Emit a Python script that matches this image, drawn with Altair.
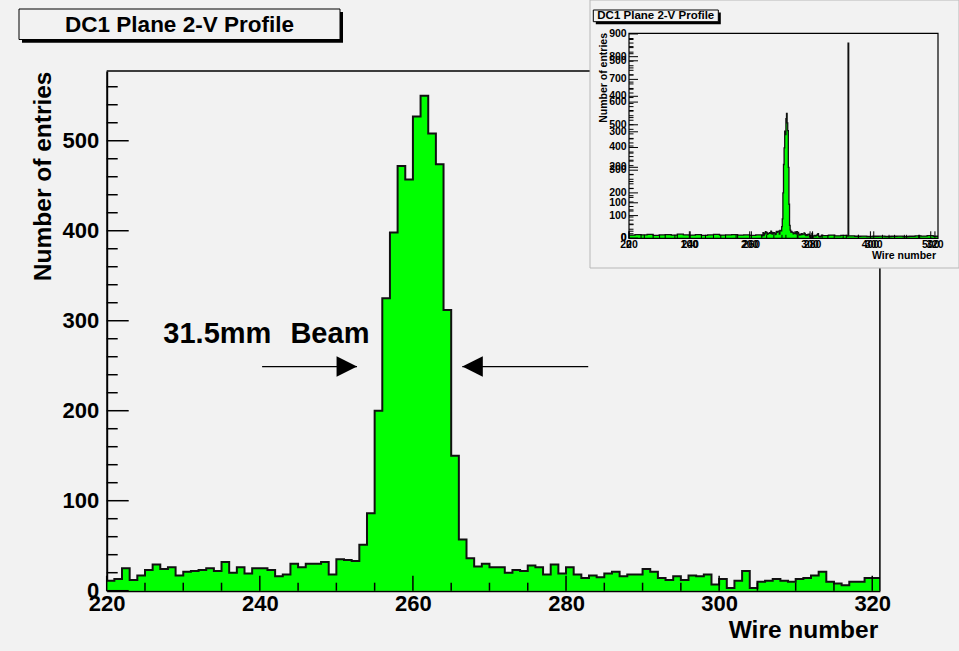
import altair as alt
import pandas as pd

FONT = "Liberation Sans"
BG = "#f2f2f2"

# ---------------- data ----------------
wires = list(range(220, 321))
counts = [11, 13, 25, 12, 17, 23, 29, 24, 26, 17,
          21, 22, 23, 25, 22, 32, 20, 26, 19, 25,
          25, 23, 16, 18, 30, 26, 30, 30, 32, 18,
          35, 34, 33, 51, 86, 200, 325, 398, 472, 457,
          527, 550, 508, 474, 312, 150, 57, 36, 27, 30,
          26, 26, 20, 23, 22, 28, 26, 18, 29, 19,
          26, 18, 14, 17, 15, 19, 21, 16, 18, 18,
          24, 21, 14, 12, 16, 12, 17, 16, 18, 7,
          13, 3, 11, 22, 3, 10, 11, 13, 11, 10,
          13, 14, 17, 21, 10, 8, 6, 10, 10, 14,
          14]

# inset (full wire range 0-512), coarse estimates outside the main window
inset_left_edges = [0, 10, 20, 30, 40, 50, 60, 70, 80, 90, 100, 110,
                    120, 130, 140, 150, 160, 170, 180, 190, 200, 210]
inset_left_counts = [14, 16, 15, 17, 13, 15, 16, 14, 18, 15, 14, 16,
                     13, 15, 17, 14, 15, 16, 14, 15, 13, 15]
inset_right_edges = [321, 331, 341, 351, 361, 363, 364, 374, 384, 394, 404,
                     414, 424, 434, 444, 454, 464, 474, 484, 494, 504]
inset_right_counts = [12, 14, 11, 13, 10, 860, 11, 9, 10, 8, 9,
                      10, 8, 9, 10, 8, 9, 11, 10, 12, 9]
inset_end = 512

x_major = [220, 240, 260, 280, 300, 320]
x_minor = [v for v in range(220, 321, 5) if v not in x_major]
y_major = [0, 100, 200, 300, 400, 500]
y_minor = [v for v in range(0, 561, 20) if v not in y_major]

inset_x_major = [0, 100, 200, 300, 400, 500]
inset_x_minor = [v for v in range(0, 512, 20) if v not in inset_x_major]
inset_y_major = [0, 100, 200, 300, 400, 500, 600, 700, 800, 900]
inset_y_minor = [v for v in range(0, 901, 20) if v not in inset_y_major]

title_text = "DC1 Plane 2-V Profile"
annot_words = ["31.5mm", "Beam"]
annot_x = [227.4, 244.0]

# ---------------- geometry (plot area) ----------------
W, H = 773.2, 519.7
XM = alt.Scale(domain=[220, 321], nice=False, zero=False)
YM = alt.Scale(domain=[0, 577.5], nice=False, zero=True)
IX0, IX1, IY0, IY1 = 522.3, 831.3, 167.3, -37.7
XI = alt.Scale(domain=[0, 512], range=[IX0, IX1], nice=False, zero=False)
YI = alt.Scale(domain=[0, 903], range=[IY0, IY1], nice=False, zero=True)
XIM = alt.Scale(domain=[220, 321], range=[IX0, IX1], nice=False, zero=False)
YIM = alt.Scale(domain=[0, 577.5], range=[IY0, IY1], nice=False, zero=True)

one = pd.DataFrame({"a": [0]})

main_df = pd.DataFrame({"wire": wires + [321], "count": counts + [counts[-1]]})

x_axis = alt.Axis(values=x_major, format="d", title="Wire number", ticks=False, grid=False,
                  domainColor="black", domainWidth=2, labelFont=FONT, labelFontWeight="bold",
                  labelFontSize=22, labelColor="black", labelPadding=3, labelFlush=False,
                  labelOverlap=False, titleFont=FONT, titleFontWeight="bold", titleFontSize=24.5,
                  titleColor="black", titleAnchor="end", titleAlign="right",
                  titleBaseline="alphabetic", titleX=771, titleY=47)
y_axis = alt.Axis(values=y_major, format="d", title="Number of entries", ticks=False, grid=False,
                  domainColor="black", domainWidth=2, labelFont=FONT, labelFontWeight="bold",
                  labelFontSize=22, labelColor="black", labelPadding=8, labelFlush=False,
                  labelOverlap=False, titleFont=FONT, titleFontWeight="bold", titleFontSize=24.5,
                  titleColor="black", titleAngle=270, titleAnchor="end", titleAlign="right",
                  titleBaseline="alphabetic", titleX=-56, titleY=0)

area = alt.Chart(main_df).mark_area(interpolate="step-after", color="#00ff00").encode(
    x=alt.X("wire:Q", scale=XM, axis=x_axis),
    y=alt.Y("count:Q", scale=YM, axis=y_axis),
)
line = alt.Chart(main_df).mark_line(interpolate="step-after", color="#111111", strokeWidth=2).encode(
    x=alt.X("wire:Q", scale=XM, axis=None),
    y=alt.Y("count:Q", scale=YM, axis=None),
)


def xticks(vals, scale, y0, length, width=1.5):
    return alt.Chart(pd.DataFrame({"t": vals})).mark_rule(color="black", strokeWidth=width).encode(
        x=alt.X("t:Q", scale=scale, axis=None), y=alt.value(y0), y2=alt.value(y0 - length))


def yticks(vals, scale, x0, length, width=1.5):
    return alt.Chart(pd.DataFrame({"t": vals})).mark_rule(color="black", strokeWidth=width).encode(
        y=alt.Y("t:Q", scale=scale, axis=None), x=alt.value(x0), x2=alt.value(x0 + length))


frame_top = alt.Chart(pd.DataFrame({"x": [220], "x2": [321], "y": [577.5]})).mark_rule(
    color="black", strokeWidth=1.5).encode(
    x=alt.X("x:Q", scale=XM, axis=None), x2="x2:Q", y=alt.Y("y:Q", scale=YM, axis=None))
frame_right = alt.Chart(pd.DataFrame({"x": [321], "y": [0], "y2": [577.5]})).mark_rule(
    color="black", strokeWidth=1.5).encode(
    x=alt.X("x:Q", scale=XM, axis=None), y=alt.Y("y:Q", scale=YM, axis=None), y2="y2:Q")

# annotation
ann = alt.Chart(pd.DataFrame({"x": annot_x, "y": [275, 275], "t": annot_words})).mark_text(
    align="left", baseline="alphabetic", font=FONT, fontWeight="bold", fontSize=29, color="black").encode(
    x=alt.X("x:Q", scale=XM, axis=None), y=alt.Y("y:Q", scale=YM, axis=None), text="t:N")
arrows = alt.Chart(pd.DataFrame({"x": [240.3, 282.9], "x2": [252.7, 266.45], "y": [249, 249]})).mark_rule(
    color="black", strokeWidth=1.3).encode(
    x=alt.X("x:Q", scale=XM, axis=None), x2="x2:Q", y=alt.Y("y:Q", scale=YM, axis=None))
head_r = alt.Chart(pd.DataFrame({"x": [252.7], "y": [249]})).mark_point(
    shape="M0,0L-2,-1L-2,1Z", size=420, filled=True, color="black", opacity=1).encode(
    x=alt.X("x:Q", scale=XM, axis=None), y=alt.Y("y:Q", scale=YM, axis=None))
head_l = alt.Chart(pd.DataFrame({"x": [266.45], "y": [249]})).mark_point(
    shape="M0,0L2,-1L2,1Z", size=420, filled=True, color="black", opacity=1).encode(
    x=alt.X("x:Q", scale=XM, axis=None), y=alt.Y("y:Q", scale=YM, axis=None))


def box(x0, x1, y0, y1, fill, stroke=None, sw=1):
    kw = dict(fill=fill)
    if stroke:
        kw.update(stroke=stroke, strokeWidth=sw)
    return alt.Chart(one).mark_rect(**kw).encode(
        x=alt.value(x0), x2=alt.value(x1), y=alt.value(y0), y2=alt.value(y1))


def label(txt, x, y, size, align="center", angle=0):
    kw = dict(align=align, baseline="alphabetic", font=FONT, fontWeight="bold",
              fontSize=size, color="black", text=txt)
    if angle:
        kw["angle"] = angle
    return alt.Chart(one).mark_text(**kw).encode(x=alt.value(x), y=alt.value(y))


title_layers = [
    box(-84.7, 236.3, -59, -28.3, "black"),
    box(-87.7, 233.3, -62, -31.5, BG, "black", 1),
    label(title_text, 72.8, -39.3, 22.5),
]

# ---------------- inset ----------------
in_edges = inset_left_edges + wires + inset_right_edges
in_vals = inset_left_counts + counts + inset_right_counts
inset_df = pd.DataFrame({"wire": in_edges + [inset_end], "count": in_vals + [in_vals[-1]]})

inset_area = alt.Chart(inset_df).mark_area(interpolate="step-after", color="#00ff00").encode(
    x=alt.X("wire:Q", scale=XI, axis=None), y=alt.Y("count:Q", scale=YI, axis=None))
inset_line = alt.Chart(inset_df).mark_line(interpolate="step-after", color="#111111", strokeWidth=1.3).encode(
    x=alt.X("wire:Q", scale=XI, axis=None), y=alt.Y("count:Q", scale=YI, axis=None))


def xlabels(vals, scale, y, size=10.5):
    return alt.Chart(pd.DataFrame({"t": vals})).mark_text(
        align="center", baseline="alphabetic", font=FONT, fontWeight="bold", fontSize=size,
        color="black").encode(x=alt.X("t:Q", scale=scale, axis=None), y=alt.value(y), text="t:Q")


def ylabels(vals, scale, x, size=10.5):
    return alt.Chart(pd.DataFrame({"t": vals})).mark_text(
        align="right", baseline="middle", font=FONT, fontWeight="bold", fontSize=size,
        color="black").encode(y=alt.Y("t:Q", scale=scale, axis=None), x=alt.value(x), text="t:Q")


inset_layers = [
    box(483.3, 852.3, -71, 197, BG, "#b8b8b8", 1),
    inset_area,
    inset_line,
    box(IX0, IX1, IY1, IY0, "transparent", "black", 1.2),
    xticks(inset_x_major, XI, IY0, 7, 1),
    xticks(inset_x_minor, XI, IY0, 3.5, 1),
    xticks(x_major, XIM, IY0, 7, 1),
    xticks(x_minor, XIM, IY0, 3.5, 1),
    yticks(inset_y_major, YI, IX0, 9, 1),
    yticks(inset_y_minor, YI, IX0, 4.5, 1),
    yticks(y_major, YIM, IX0, 9, 1),
    yticks(y_minor, YIM, IX0, 4.5, 1),
    xlabels(inset_x_major, XI, 177.3),
    xlabels(x_major, XIM, 177.3),
    ylabels(inset_y_major, YI, 520),
    ylabels(y_major, YIM, 520),
    label("Wire number", 829.3, 188.3, 10.5, align="right"),
    label("Number of entries", 499.8, -38, 10.5, align="right", angle=270),
    box(489.1, 614.1, -58.5, -46.8, "black"),
    box(486.6, 611.6, -61, -49.3, BG, "black", 1),
    label(title_text, 549.1, -52, 11.5),
]

layers = [area, line,
          xticks(x_major, XM, H, 15), xticks(x_minor, XM, H, 8),
          yticks(y_major, YM, 0, 22), yticks(y_minor, YM, 0, 11),
          frame_top, frame_right, ann, arrows, head_r, head_l] + title_layers + inset_layers

chart = alt.layer(*layers).resolve_scale(x="independent", y="independent").properties(
    width=W, height=H,
    padding={"left": 106.7, "top": 71, "right": 79.1, "bottom": 60.3},
    autosize=alt.AutoSizeParams(type="none"),
    background=BG,
).configure_view(stroke=None)

chart.save("out.html", embed_options={"renderer": "svg", "actions": False})
